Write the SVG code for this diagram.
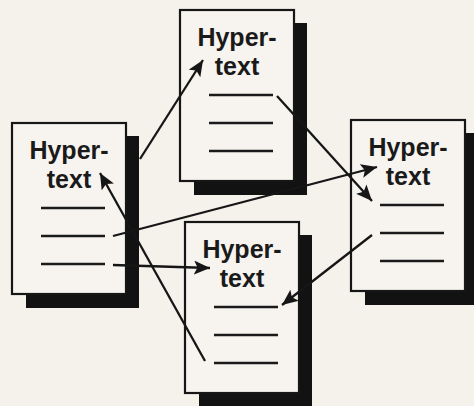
<svg xmlns="http://www.w3.org/2000/svg" width="474" height="406" viewBox="0 0 474 406">
  <style>
    .bg { fill: #f5f2ec; }
    .shadow { fill: #121212; }
    .page { fill: #f7f4ef; stroke: #161616; stroke-width: 2.2; }
    .rule { stroke: #1a1a1a; stroke-width: 2.4; stroke-linecap: butt; }
    .title { font-family: "Liberation Sans", Arial, sans-serif; font-weight: bold; font-size: 25px; fill: #1a1a1a; text-anchor: middle; }
    .link { fill: none; stroke: #161616; stroke-width: 2.3; marker-end: url(#head); }
  </style>
  <defs>
    <marker id="head" markerUnits="userSpaceOnUse" markerWidth="18" markerHeight="16" refX="16" refY="7" orient="auto">
      <path d="M0,0 L16,7 L0,14 L3.5,7 Z" fill="#161616"/>
    </marker>
    <!-- one page: shadow, sheet, two-line title, three text rules -->
    <g id="page">
      <rect class="shadow" x="14" y="13" width="113" height="172"/>
      <rect class="page" x="0" y="0" width="114" height="171"/>
      <text class="title" x="57" y="36">Hyper-</text>
      <text class="title" x="57" y="65">text</text>
      <line class="rule" x1="29" y1="85" x2="93" y2="85"/>
      <line class="rule" x1="29" y1="113" x2="93" y2="113"/>
      <line class="rule" x1="29" y1="141" x2="93" y2="141"/>
    </g>
  </defs>

  <rect class="bg" x="0" y="0" width="474" height="406"/>

  <g id="doc-left" transform="translate(12,123)"><use href="#page"/></g>
  <g id="doc-top" transform="translate(180,10)"><use href="#page"/></g>
  <g id="doc-right" transform="translate(351,120)"><use href="#page"/></g>
  <g id="doc-bottom" transform="translate(185,222)"><use href="#page"/></g>

  <g id="connectors">
    <line class="link" x1="140" y1="159" x2="203" y2="60"/>
    <line class="link" x1="277" y1="96" x2="372" y2="201"/>
    <line class="link" x1="113" y1="236" x2="377" y2="167"/>
    <line class="link" x1="113" y1="265" x2="210" y2="268"/>
    <line class="link" x1="205" y1="361" x2="100" y2="173"/>
    <line class="link" x1="372" y1="235" x2="282" y2="305"/>
  </g>
</svg>
